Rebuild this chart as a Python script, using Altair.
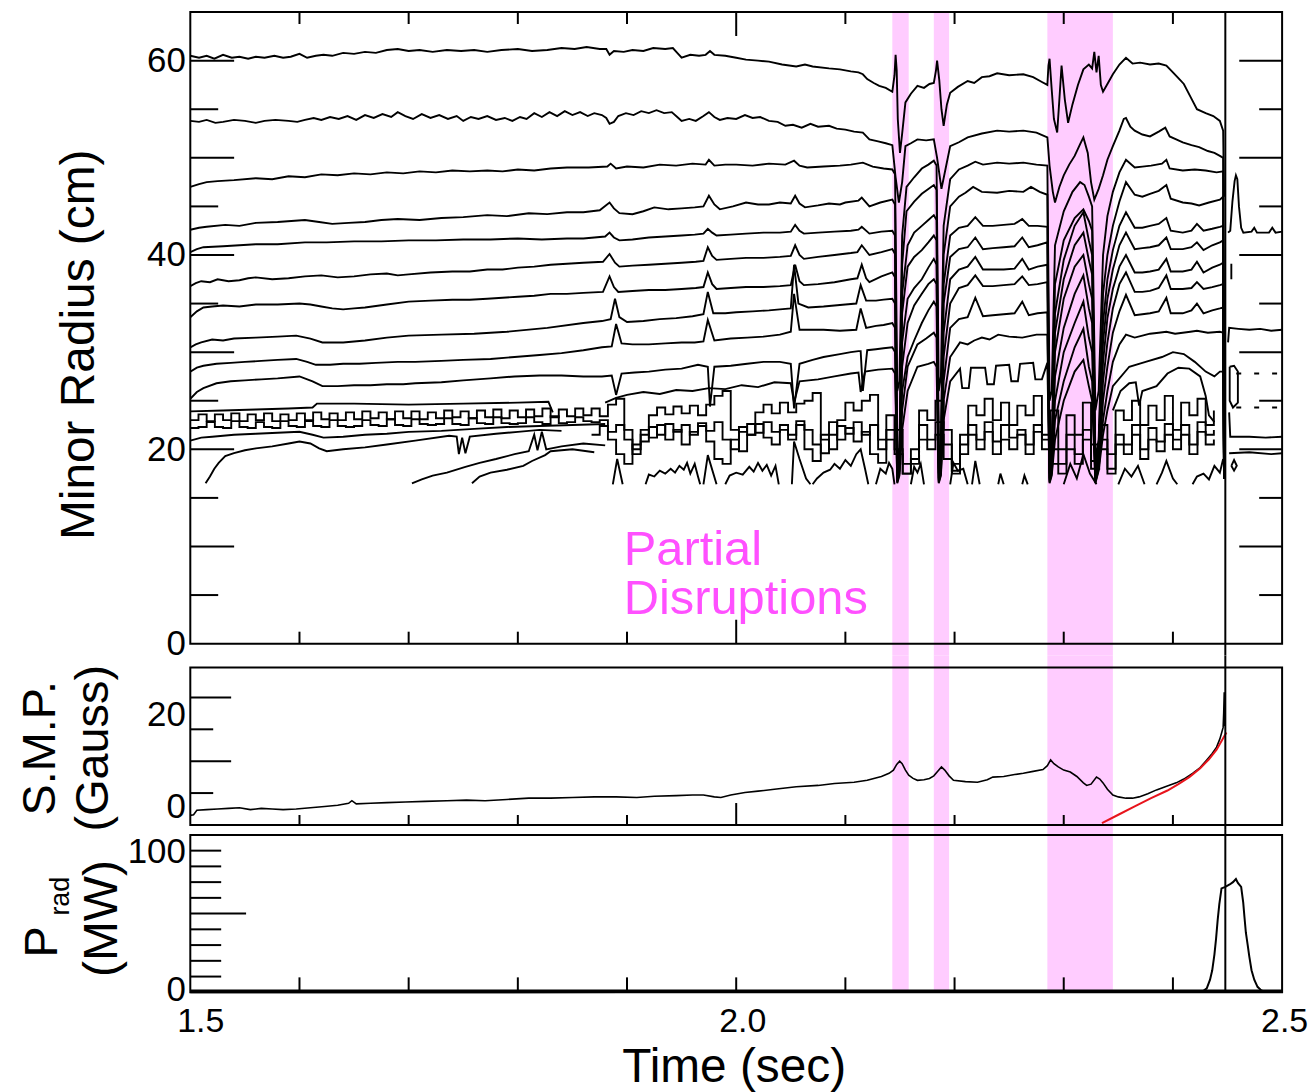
import altair as alt
import pandas as pd

FONT = "Liberation Sans"
PINK = "#ffccff"
MAGENTA = "#ff50ff"

# ---------------- axes / annotations ----------------
T_DOMAIN = [1.5, 2.5]
X_TICKS = [1.6, 1.7, 1.8, 1.9, 2.1, 2.2, 2.3, 2.4]
X_TICK_MID = [2.0]
X_LABELS = [1.5, 2.0, 2.5]
BAND_START = [2.143, 2.181, 2.285]
BAND_END = [2.158, 2.195, 2.345]
DISRUPTION_T = [2.448]

TOP_Y_LABELS = [0, 20, 40, 60]
TOP_Y_MAJOR = [10, 20, 30, 40, 50, 60]
TOP_Y_MINOR = [5, 15, 25, 35, 45, 55]
MID_Y_LABELS = [0, 20]
MID_Y_MAJOR = [10, 20]
MID_Y_MINOR = [5, 15]
BOT_Y_LABELS = [0, 100]
BOT_Y_MINOR = [10, 20, 30, 40, 60, 70, 80, 90]
BOT_Y_MAJOR = [50]

# ---------------- top panel: minor-radius contours (t [s], r [cm]) ----------------
L1 = [(1.500,60.5),(1.508,60.3),(1.515,60.5),(1.522,60.2),(1.530,60.6),(1.538,60.3),(1.545,60.4),(1.553,60.2),(1.560,60.4),(1.568,60.3),(1.577,60.5),(1.585,60.3),(1.592,60.4),(1.600,60.7),(1.607,60.3),(1.615,60.5),(1.622,60.6),(1.630,60.5),(1.640,60.8),(1.650,60.7),(1.660,60.9),(1.670,60.8),(1.680,61.1),(1.690,61.2),(1.700,61.0),(1.710,61.1),(1.722,60.9),(1.735,61.1),(1.748,61.0),(1.760,61.1),(1.772,60.9),(1.785,61.1),(1.800,61.2),(1.813,61.0),(1.827,61.1),(1.840,61.3),(1.852,61.2),(1.863,61.4),(1.875,61.2),(1.881,61.2),(1.884,60.6),(1.888,61.0),(1.897,60.9),(1.905,61.1),(1.915,61.0),(1.924,61.3),(1.935,61.2),(1.942,61.3),(1.946,60.8),(1.950,60.3),(1.958,60.6),(1.966,60.5),(1.972,60.6),(1.976,61.0),(1.980,60.6),(1.990,60.5),(2.000,60.3),(2.009,60.1),(2.020,60.0),(2.030,59.9),(2.042,59.6),(2.055,59.4),(2.063,59.6),(2.070,59.4),(2.085,59.2),(2.095,59.1),(2.105,58.9),(2.112,58.8),(2.116,58.6),(2.120,58.1),(2.126,57.7),(2.131,57.4),(2.137,57.2),(2.143,56.8),(2.145,58.5),(2.146,60.6),(2.147,59.0),(2.148,54.0),(2.150,50.5),(2.152,52.5),(2.155,55.7),(2.160,56.6),(2.166,57.4),(2.172,57.2),(2.177,57.6),(2.181,57.7),(2.183,59.0),(2.184,60.0),(2.186,58.0),(2.188,55.0),(2.190,53.3),(2.193,55.5),(2.196,56.7),(2.203,57.3),(2.212,57.9),(2.218,57.7),(2.225,58.3),(2.232,58.4),(2.239,58.7),(2.250,58.5),(2.263,58.6),(2.272,58.3),(2.280,57.8),(2.285,57.5),(2.286,59.5),(2.287,60.2),(2.289,57.0),(2.291,54.0),(2.294,52.6),(2.296,56.0),(2.298,59.5),(2.301,56.0),(2.304,53.6),(2.308,55.5),(2.313,57.5),(2.318,59.1),(2.323,59.6),(2.326,59.2),(2.328,60.9),(2.330,58.8),(2.332,60.5),(2.334,57.5),(2.336,56.8),(2.340,57.6),(2.345,58.6),(2.351,59.6),(2.357,60.3),(2.363,59.7),(2.370,59.8),(2.379,59.6),(2.387,59.7),(2.394,59.5),(2.400,58.8),(2.405,58.2),(2.410,57.6),(2.416,56.3),(2.422,55.0),(2.430,54.6),(2.437,54.3),(2.443,53.8),(2.446,52.8),(2.4468,46.0)]

L2 = [(1.500,53.8),(1.508,53.7),(1.515,53.9),(1.523,53.6),(1.530,53.7),(1.540,53.9),(1.550,53.8),(1.560,53.6),(1.568,53.8),(1.578,53.9),(1.590,53.8),(1.598,53.7),(1.605,53.9),(1.613,54.1),(1.620,53.9),(1.628,54.2),(1.636,54.0),(1.644,54.3),(1.652,53.9),(1.660,54.4),(1.668,54.1),(1.676,54.5),(1.684,54.2),(1.690,54.7),(1.697,54.3),(1.704,54.0),(1.712,54.5),(1.720,54.1),(1.728,54.4),(1.736,54.0),(1.744,54.3),(1.750,53.8),(1.757,54.2),(1.764,54.0),(1.772,54.3),(1.780,53.9),(1.788,54.1),(1.795,53.8),(1.802,54.2),(1.808,54.0),(1.815,54.6),(1.822,54.2),(1.829,54.7),(1.836,54.3),(1.843,54.8),(1.850,54.4),(1.857,54.7),(1.864,54.3),(1.870,54.6),(1.877,54.4),(1.881,54.1),(1.884,53.5),(1.888,53.7),(1.892,54.3),(1.899,54.6),(1.906,54.4),(1.913,54.8),(1.920,54.6),(1.927,54.9),(1.934,54.6),(1.941,54.7),(1.946,54.2),(1.950,53.8),(1.957,54.0),(1.963,53.8),(1.970,54.3),(1.975,54.7),(1.980,54.2),(1.985,53.9),(1.992,54.1),(2.000,54.0),(2.008,54.4),(2.015,54.1),(2.022,54.2),(2.030,53.8),(2.038,53.7),(2.045,53.3),(2.052,53.4),(2.060,53.1),(2.068,53.5),(2.075,53.2),(2.085,53.3),(2.092,53.0),(2.100,52.9),(2.108,52.7),(2.116,52.6),(2.122,51.9),(2.130,51.7),(2.137,51.5),(2.143,51.3),(2.146,48.0),(2.149,45.4),(2.152,47.5),(2.155,51.2),(2.160,51.5),(2.166,51.9),(2.174,51.8),(2.181,51.9),(2.184,50.0),(2.188,46.8),(2.192,49.0),(2.196,51.2),(2.204,51.6),(2.212,52.1),(2.225,52.5),(2.239,52.8),(2.250,52.7),(2.263,52.8),(2.275,52.6),(2.285,52.1),(2.287,49.2),(2.290,46.5),(2.292,45.4),(2.296,47.0),(2.300,48.2),(2.305,49.3),(2.310,50.2),(2.315,51.4),(2.318,52.1),(2.322,50.5),(2.325,47.5),(2.328,45.7),(2.332,46.8),(2.336,48.2),(2.340,49.8),(2.345,51.2),(2.351,52.8),(2.355,54.0),(2.357,54.1),(2.361,53.2),(2.365,52.8),(2.372,52.4),(2.379,52.2),(2.387,52.7),(2.393,53.1),(2.397,52.2),(2.403,51.9),(2.409,51.6),(2.417,51.3),(2.424,51.1),(2.432,50.7),(2.438,50.5),(2.443,50.2),(2.446,50.0),(2.4468,17.0)]

L3 = [(1.500,47.0),(1.508,47.3),(1.515,47.5),(1.525,47.6),(1.540,47.7),(1.560,47.9),(1.575,47.8),(1.590,48.1),(1.605,48.0),(1.620,48.3),(1.635,48.2),(1.650,48.4),(1.665,48.3),(1.680,48.5),(1.695,48.4),(1.710,48.6),(1.725,48.5),(1.740,48.7),(1.756,48.6),(1.772,48.7),(1.786,48.6),(1.800,48.8),(1.815,48.7),(1.830,48.9),(1.845,49.0),(1.865,49.0),(1.882,49.1),(1.885,49.4),(1.890,48.9),(1.900,49.1),(1.915,49.0),(1.930,49.3),(1.945,49.2),(1.960,49.4),(1.972,49.3),(1.975,49.8),(1.980,49.2),(1.990,49.3),(2.000,49.3),(2.015,49.2),(2.030,49.4),(2.045,49.3),(2.053,49.7),(2.058,49.2),(2.065,49.0),(2.080,49.1),(2.095,49.2),(2.105,49.3),(2.116,49.5),(2.125,49.1),(2.135,48.9),(2.143,48.8),(2.1455,48.3),(2.1475,26.0),(2.1495,27.0),(2.152,42.0),(2.156,47.0),(2.163,48.0),(2.170,48.9),(2.176,49.3),(2.181,49.7),(2.1835,49.2),(2.1855,26.0),(2.1875,27.5),(2.190,43.0),(2.196,47.8),(2.204,48.8),(2.212,49.2),(2.219,49.6),(2.226,49.3),(2.239,49.5),(2.250,49.4),(2.263,49.5),(2.275,49.3),(2.285,49.2),(2.287,25.0),(2.289,26.0),(2.292,41.0),(2.300,44.5),(2.308,46.5),(2.315,47.5),(2.319,47.2),(2.323,46.0),(2.326,45.0),(2.329,24.0),(2.332,26.0),(2.336,40.0),(2.340,44.0),(2.345,46.5),(2.351,48.5),(2.357,49.8),(2.365,49.0),(2.372,49.1),(2.380,49.2),(2.390,49.4),(2.394,49.8),(2.397,48.9),(2.409,48.7),(2.420,48.8),(2.430,48.7),(2.440,48.5),(2.446,48.6),(2.4468,17.0)]

L4 = [(1.500,42.6),(1.508,42.8),(1.515,42.9),(1.532,43.1),(1.545,43.0),(1.560,43.3),(1.580,43.4),(1.605,43.6),(1.618,43.4),(1.630,43.2),(1.645,43.3),(1.660,43.4),(1.675,43.6),(1.690,43.7),(1.710,43.6),(1.730,43.8),(1.750,43.9),(1.772,44.1),(1.790,44.0),(1.810,44.3),(1.827,44.2),(1.845,44.4),(1.860,44.4),(1.875,44.6),(1.884,45.4),(1.888,44.8),(1.893,44.3),(1.905,44.2),(1.915,44.5),(1.925,44.9),(1.938,44.7),(1.950,44.8),(1.962,44.9),(1.970,45.0),(1.975,46.1),(1.980,45.2),(1.985,44.7),(1.997,45.0),(2.009,45.4),(2.020,45.2),(2.030,45.2),(2.040,45.4),(2.050,45.3),(2.054,46.1),(2.058,45.3),(2.063,44.9),(2.075,45.1),(2.085,45.3),(2.095,45.2),(2.100,45.4),(2.112,45.6),(2.115,45.9),(2.122,45.0),(2.132,45.4),(2.143,45.7),(2.1455,45.2),(2.1475,19.0),(2.1495,20.0),(2.152,39.0),(2.156,44.5),(2.163,45.5),(2.170,46.3),(2.176,46.8),(2.181,47.2),(2.1835,46.7),(2.1855,19.5),(2.1875,20.5),(2.190,40.0),(2.196,45.0),(2.204,46.0),(2.210,46.4),(2.217,47.0),(2.225,46.5),(2.239,46.4),(2.250,46.6),(2.263,46.5),(2.270,47.0),(2.278,46.5),(2.285,46.2),(2.287,19.0),(2.289,20.0),(2.292,37.0),(2.300,41.5),(2.310,43.8),(2.318,44.7),(2.323,43.5),(2.326,42.5),(2.329,19.0),(2.332,21.0),(2.336,36.0),(2.340,40.0),(2.345,43.0),(2.351,45.5),(2.357,47.5),(2.365,46.2),(2.372,46.0),(2.379,46.3),(2.387,46.6),(2.394,47.2),(2.398,45.8),(2.409,45.4),(2.417,45.3),(2.424,45.1),(2.433,45.4),(2.443,45.7),(2.446,46.0),(2.4468,17.0)]

L5 = [(1.500,40.3),(1.506,40.6),(1.512,40.8),(1.530,40.9),(1.545,41.0),(1.560,41.1),(1.580,41.1),(1.605,41.3),(1.625,41.3),(1.650,41.4),(1.675,41.4),(1.700,41.5),(1.725,41.5),(1.750,41.6),(1.775,41.6),(1.800,41.7),(1.822,41.6),(1.845,41.7),(1.860,41.7),(1.880,41.9),(1.884,42.3),(1.888,41.8),(1.893,41.5),(1.905,41.6),(1.920,41.8),(1.935,41.9),(1.950,42.0),(1.962,42.1),(1.970,42.2),(1.974,42.7),(1.978,42.3),(1.982,42.0),(1.995,42.1),(2.009,42.2),(2.025,42.3),(2.040,42.3),(2.050,42.4),(2.054,43.1),(2.058,42.5),(2.062,42.2),(2.075,42.3),(2.090,42.4),(2.105,42.5),(2.112,42.6),(2.115,42.9),(2.122,42.2),(2.133,42.4),(2.143,42.5),(2.1455,42.0),(2.1475,18.5),(2.1495,19.5),(2.152,36.0),(2.157,41.0),(2.163,42.3),(2.170,43.0),(2.176,43.6),(2.181,44.1),(2.1835,43.6),(2.1855,18.5),(2.1875,19.5),(2.190,37.0),(2.196,42.0),(2.204,42.8),(2.212,43.0),(2.219,43.9),(2.226,43.0),(2.235,43.0),(2.245,43.1),(2.255,43.2),(2.262,43.7),(2.268,43.0),(2.276,43.0),(2.285,42.9),(2.287,18.5),(2.289,19.5),(2.292,34.0),(2.300,39.5),(2.310,43.0),(2.318,44.4),(2.323,41.5),(2.326,40.0),(2.329,18.5),(2.332,20.5),(2.336,33.0),(2.340,37.5),(2.345,40.5),(2.351,43.0),(2.357,44.4),(2.365,42.8),(2.372,42.8),(2.379,43.0),(2.387,43.2),(2.394,43.8),(2.398,42.5),(2.409,42.3),(2.417,42.5),(2.422,43.2),(2.428,42.5),(2.436,42.7),(2.443,42.9),(2.446,43.0),(2.4468,17.0)]

L6 = [(1.500,36.8),(1.505,37.1),(1.510,37.3),(1.518,37.2),(1.525,37.5),(1.535,37.3),(1.545,37.4),(1.553,37.6),(1.560,37.7),(1.575,37.5),(1.590,37.6),(1.605,37.8),(1.620,37.9),(1.635,37.7),(1.650,37.8),(1.665,38.0),(1.680,38.1),(1.690,37.9),(1.700,38.0),(1.720,38.2),(1.740,38.3),(1.756,38.3),(1.772,38.5),(1.786,38.5),(1.800,38.7),(1.815,38.8),(1.830,39.0),(1.845,39.1),(1.860,39.2),(1.878,39.3),(1.884,40.1),(1.889,39.2),(1.893,38.8),(1.905,38.9),(1.920,39.0),(1.935,39.1),(1.950,39.2),(1.963,39.3),(1.970,39.4),(1.974,40.8),(1.978,39.9),(1.982,39.5),(1.995,39.6),(2.009,39.7),(2.025,39.7),(2.040,39.8),(2.050,39.9),(2.054,41.0),(2.058,40.0),(2.062,39.6),(2.075,39.8),(2.090,40.0),(2.105,40.2),(2.111,40.3),(2.115,41.0),(2.122,40.0),(2.133,40.3),(2.143,40.6),(2.1455,40.1),(2.1475,18.0),(2.1495,19.0),(2.152,34.0),(2.157,38.8),(2.163,39.8),(2.170,40.5),(2.176,41.3),(2.181,42.0),(2.1835,41.5),(2.1855,18.0),(2.1875,19.0),(2.190,35.0),(2.196,39.8),(2.204,40.6),(2.212,40.8),(2.219,41.8),(2.226,40.6),(2.235,40.7),(2.245,40.8),(2.255,40.9),(2.262,41.8),(2.268,40.8),(2.276,41.0),(2.285,41.3),(2.287,18.0),(2.289,19.0),(2.292,32.0),(2.300,37.5),(2.310,41.0),(2.318,42.3),(2.323,39.5),(2.326,38.0),(2.329,18.0),(2.332,20.0),(2.336,31.0),(2.340,35.5),(2.345,38.5),(2.351,41.0),(2.357,42.3),(2.365,40.6),(2.372,40.7),(2.379,40.8),(2.387,41.0),(2.394,41.8),(2.398,40.6),(2.409,40.6),(2.417,40.8),(2.422,41.3),(2.428,40.5),(2.436,41.0),(2.443,41.3),(2.446,41.5),(2.4468,17.0)]

L7 = [(1.500,33.6),(1.506,34.2),(1.512,34.6),(1.520,34.7),(1.530,34.8),(1.545,34.7),(1.560,34.9),(1.580,34.9),(1.600,35.0),(1.610,34.9),(1.620,34.7),(1.630,34.5),(1.640,34.4),(1.650,34.5),(1.660,34.6),(1.680,34.9),(1.700,35.2),(1.720,35.3),(1.740,35.4),(1.756,35.4),(1.772,35.5),(1.786,35.6),(1.800,35.7),(1.815,35.8),(1.830,36.0),(1.845,36.0),(1.860,36.1),(1.878,36.2),(1.884,37.8),(1.888,36.7),(1.892,36.2),(1.905,36.3),(1.920,36.4),(1.935,36.4),(1.950,36.5),(1.963,36.6),(1.970,36.7),(1.974,38.2),(1.978,37.0),(1.982,36.5),(1.995,36.6),(2.009,36.7),(2.025,36.7),(2.040,36.8),(2.050,36.9),(2.054,39.0),(2.058,37.3),(2.062,36.9),(2.075,37.0),(2.090,37.2),(2.105,37.5),(2.111,37.6),(2.115,39.0),(2.119,37.6),(2.122,37.2),(2.133,37.8),(2.143,38.2),(2.1455,37.7),(2.1475,17.5),(2.1495,18.5),(2.152,31.0),(2.157,35.5),(2.163,36.6),(2.170,37.5),(2.176,38.7),(2.181,39.6),(2.1835,39.0),(2.1855,17.5),(2.1875,18.5),(2.190,32.0),(2.196,37.5),(2.204,38.5),(2.212,38.8),(2.219,39.8),(2.226,38.5),(2.235,38.5),(2.245,38.5),(2.255,38.6),(2.262,39.6),(2.268,38.5),(2.276,38.8),(2.285,39.0),(2.287,17.5),(2.289,18.5),(2.292,30.0),(2.300,35.5),(2.310,38.8),(2.318,40.0),(2.323,37.0),(2.326,35.5),(2.329,17.5),(2.332,19.5),(2.336,29.0),(2.340,33.5),(2.345,36.5),(2.351,38.8),(2.357,40.0),(2.365,38.2),(2.372,38.2),(2.379,38.3),(2.387,38.5),(2.394,39.6),(2.398,38.3),(2.409,38.3),(2.417,38.5),(2.422,39.3),(2.428,38.2),(2.436,38.7),(2.443,39.0),(2.446,39.2),(2.4468,17.0)]

L8 = [(1.500,30.5),(1.505,30.8),(1.510,31.0),(1.520,31.3),(1.530,31.2),(1.540,31.4),(1.560,31.5),(1.580,31.6),(1.597,31.7),(1.610,31.4),(1.621,31.0),(1.640,31.0),(1.660,31.2),(1.680,31.5),(1.700,31.7),(1.730,31.8),(1.760,31.9),(1.790,32.1),(1.827,32.5),(1.860,33.0),(1.877,33.2),(1.885,33.4),(1.889,35.5),(1.893,33.6),(1.900,33.1),(1.915,33.2),(1.930,33.4),(1.945,33.5),(1.960,33.7),(1.970,33.9),(1.974,36.2),(1.979,34.0),(1.990,34.0),(2.000,34.1),(2.015,34.2),(2.030,34.3),(2.040,34.4),(2.050,34.5),(2.053,39.0),(2.057,35.0),(2.066,34.6),(2.080,34.7),(2.090,34.8),(2.100,34.9),(2.110,35.0),(2.114,36.9),(2.119,35.3),(2.128,35.3),(2.135,35.4),(2.143,35.5),(2.1455,35.0),(2.1475,17.0),(2.1495,18.0),(2.152,28.5),(2.157,33.0),(2.163,34.8),(2.170,36.0),(2.176,37.0),(2.181,37.5),(2.1835,37.0),(2.1855,17.0),(2.1875,18.0),(2.190,29.5),(2.196,35.0),(2.204,36.6),(2.212,36.9),(2.219,37.9),(2.226,36.8),(2.235,36.8),(2.245,36.9),(2.255,37.0),(2.262,37.8),(2.268,36.9),(2.276,37.0),(2.285,37.2),(2.287,17.0),(2.289,18.0),(2.292,27.5),(2.300,32.5),(2.310,36.0),(2.318,37.9),(2.323,34.5),(2.326,33.0),(2.329,17.0),(2.332,19.0),(2.336,27.0),(2.340,31.0),(2.345,34.5),(2.351,37.0),(2.357,38.2),(2.365,36.2),(2.372,36.2),(2.379,36.3),(2.387,36.6),(2.394,37.9),(2.398,36.5),(2.409,36.5),(2.417,36.6),(2.422,37.2),(2.428,36.5),(2.436,36.7),(2.443,36.9),(2.446,37.0),(2.4468,17.0)]

L9 = [(1.500,28.0),(1.506,28.4),(1.512,28.6),(1.524,28.8),(1.537,28.9),(1.550,29.0),(1.565,29.1),(1.580,29.2),(1.597,29.3),(1.607,29.0),(1.615,28.7),(1.628,28.7),(1.640,28.8),(1.655,28.8),(1.670,28.9),(1.690,29.0),(1.706,29.0),(1.730,29.1),(1.750,29.2),(1.775,29.3),(1.797,29.5),(1.820,29.7),(1.840,29.9),(1.860,30.2),(1.877,30.5),(1.886,30.6),(1.890,32.9),(1.895,30.9),(1.905,30.8),(1.920,30.8),(1.935,30.9),(1.950,31.0),(1.962,31.0),(1.970,31.1),(1.974,33.3),(1.980,31.2),(1.995,31.4),(2.010,31.5),(2.025,31.6),(2.040,31.8),(2.050,32.1),(2.053,36.0),(2.058,32.3),(2.070,32.3),(2.080,32.3),(2.095,32.2),(2.110,32.3),(2.114,34.5),(2.119,32.5),(2.128,32.7),(2.135,32.8),(2.143,33.0),(2.1455,32.5),(2.1475,16.8),(2.1495,17.8),(2.152,26.0),(2.157,29.5),(2.163,31.2),(2.170,33.0),(2.176,34.3),(2.181,35.2),(2.1835,34.7),(2.1855,16.8),(2.1875,17.8),(2.190,27.0),(2.196,32.5),(2.204,33.4),(2.212,33.6),(2.219,35.6),(2.226,33.7),(2.235,33.8),(2.245,33.9),(2.255,34.0),(2.262,35.2),(2.268,33.8),(2.276,34.0),(2.285,34.1),(2.287,16.8),(2.289,17.8),(2.292,25.0),(2.300,30.0),(2.310,33.0),(2.318,35.2),(2.323,31.5),(2.326,30.0),(2.329,16.8),(2.332,18.5),(2.336,25.0),(2.340,28.5),(2.345,32.0),(2.351,34.2),(2.357,35.9),(2.365,33.8),(2.372,33.9),(2.379,34.0),(2.387,34.2),(2.394,35.6),(2.398,34.0),(2.409,34.0),(2.417,34.3),(2.422,35.0),(2.428,34.0),(2.436,34.3),(2.443,34.5),(2.446,34.6),(2.4468,17.0)]

L10 = [(1.500,25.2),(1.506,25.9),(1.512,26.3),(1.524,26.8),(1.537,27.0),(1.550,27.1),(1.565,27.2),(1.580,27.3),(1.600,27.5),(1.612,27.0),(1.621,26.5),(1.635,26.5),(1.650,26.6),(1.665,26.6),(1.680,26.7),(1.695,26.7),(1.706,26.8),(1.730,26.9),(1.750,27.1),(1.775,27.3),(1.797,27.5),(1.820,27.6),(1.840,27.6),(1.860,27.5),(1.877,27.5),(1.886,27.6),(1.890,25.6),(1.895,27.8),(1.907,27.9),(1.920,28.0),(1.935,28.2),(1.950,28.3),(1.965,28.7),(1.974,28.5),(1.976,24.4),(1.980,28.5),(1.995,28.6),(2.010,28.8),(2.025,29.0),(2.040,29.0),(2.050,28.8),(2.053,24.2),(2.058,28.8),(2.070,29.2),(2.080,29.5),(2.095,29.8),(2.105,30.0),(2.112,30.1),(2.114,30.1),(2.116,26.0),(2.120,30.2),(2.128,30.3),(2.135,30.4),(2.143,30.5),(2.1455,30.0),(2.1475,16.6),(2.1495,17.5),(2.152,24.0),(2.157,28.5),(2.166,30.8),(2.174,31.4),(2.181,32.0),(2.1835,31.5),(2.1855,16.6),(2.1875,17.5),(2.190,25.0),(2.196,29.5),(2.205,31.0),(2.212,30.8),(2.218,31.2),(2.225,31.5),(2.232,31.3),(2.240,31.8),(2.250,31.6),(2.262,31.5),(2.275,31.8),(2.285,31.8),(2.287,16.6),(2.289,17.5),(2.292,23.0),(2.300,27.0),(2.310,30.5),(2.318,32.4),(2.323,28.5),(2.326,27.0),(2.329,16.6),(2.332,18.0),(2.336,23.0),(2.340,26.0),(2.345,29.0),(2.351,30.8),(2.357,31.8),(2.365,31.5),(2.372,31.7),(2.379,31.9),(2.387,32.0),(2.394,32.1),(2.402,31.9),(2.409,32.0),(2.416,32.1),(2.422,32.2),(2.432,32.0),(2.443,32.1),(2.446,32.0),(2.4468,17.0)]

L11 = [(1.880,24.8),(1.890,25.3),(1.900,25.6),(1.915,25.9),(1.930,25.7),(1.945,26.1),(1.960,26.0),(1.975,26.3),(1.990,26.2),(2.005,26.6),(2.020,26.4),(2.035,26.9),(2.050,26.8),(2.053,24.8),(2.058,27.0),(2.075,27.2),(2.090,27.5),(2.105,27.8),(2.112,27.9),(2.114,25.9),(2.118,28.0),(2.130,28.2),(2.143,28.3),(2.1455,27.8),(2.1475,16.5),(2.1495,17.3),(2.152,22.0),(2.157,26.0),(2.166,28.5),(2.176,28.8),(2.181,29.0),(2.1835,28.5),(2.1855,16.5),(2.1875,17.3),(2.190,23.0),(2.196,27.0),(2.205,28.3),(2.207,26.3),(2.213,26.3),(2.215,28.4),(2.228,28.4),(2.230,26.7),(2.236,26.7),(2.238,28.6),(2.250,28.7),(2.252,27.0),(2.258,27.0),(2.260,28.8),(2.272,28.9),(2.274,27.2),(2.280,27.2),(2.285,28.9),(2.287,16.5),(2.289,17.3),(2.292,21.0),(2.300,25.0),(2.310,28.0),(2.318,29.2),(2.323,26.5),(2.326,25.0),(2.329,16.5),(2.332,17.8),(2.336,21.5),(2.340,24.0),(2.345,26.5),(2.360,28.5),(2.375,29.0),(2.390,29.5),(2.400,30.0),(2.410,29.8),(2.420,29.0),(2.430,28.0),(2.438,27.5),(2.443,28.0),(2.446,28.0),(2.4468,17.0)]

L11B = [(2.345,24.0),(2.352,26.0),(2.360,26.8),(2.366,26.9),(2.369,24.5),(2.372,26.0),(2.385,26.5),(2.395,27.8),(2.405,28.4),(2.415,28.3),(2.425,27.5),(2.430,25.5),(2.433,23.5),(2.438,22.8)]

LUP = [(1.500,23.9),(1.530,24.0),(1.560,24.1),(1.590,24.2),(1.612,24.3),(1.616,24.7),(1.650,24.7),(1.700,24.6),(1.750,24.7),(1.800,24.8),(1.828,24.9),(1.832,23.8)]

L12 = [(1.500,20.9),(1.510,21.2),(1.520,21.3),(1.540,21.5),(1.560,21.6),(1.580,21.7),(1.600,21.8),(1.612,21.5),(1.622,21.2),(1.640,21.3),(1.660,21.5),(1.680,21.6),(1.700,21.8),(1.730,21.9),(1.760,22.1),(1.790,22.3),(1.820,22.4),(1.850,22.5),(1.880,22.6)]

L13 = [(1.514,16.5),(1.518,17.2),(1.522,18.0),(1.526,18.6),(1.532,19.3),(1.540,19.6),(1.550,19.9),(1.560,20.1),(1.575,20.3),(1.590,20.6),(1.600,20.8),(1.610,20.6),(1.618,20.1),(1.625,19.8),(1.640,20.0),(1.660,20.2),(1.680,20.5),(1.706,20.9),(1.737,21.4),(1.744,21.3),(1.746,19.5),(1.749,21.2),(1.752,19.6),(1.756,21.3),(1.780,21.6),(1.800,21.8),(1.820,22.0),(1.840,21.9)]

L14 = [(1.703,16.5),(1.712,16.9),(1.722,17.3),(1.735,17.6),(1.752,18.2),(1.765,18.6),(1.780,19.0),(1.797,19.5),(1.810,19.8),(1.815,21.5),(1.818,19.9),(1.822,21.8),(1.826,20.0),(1.840,20.3),(1.860,20.6),(1.880,20.4)]

L15 = [(1.758,16.5),(1.765,17.2),(1.775,17.6),(1.790,17.9),(1.805,18.3),(1.813,18.8),(1.825,19.4),(1.830,19.8),(1.850,20.0),(1.870,19.7)]

# tangled band (square-wave-like contours), sampled every 7.5 ms
SQ_T0 = 1.500
SQ_DT = 0.0075
SQA_V = [23.0,23.6,22.9,23.6,23.0,23.7,22.9,23.6,23.0,23.7,
         22.9,23.6,23.0,23.7,23.0,23.8,23.1,23.7,23.0,23.8,
         23.1,23.9,23.2,23.8,23.1,23.9,23.2,23.9,23.1,23.8,
         23.2,24.0,23.3,23.9,23.2,24.0,23.3,24.1,23.2,24.0,
         23.3,24.1,23.4,24.2,23.3,24.1,23.4,24.2,23.5,
         24.2,23.4,24.6,25.2,22.0,20.0,21.5,23.5,24.3,23.6,24.4,
         23.7,24.5,23.5,24.6,25.5,26.0,22.0,19.8,21.5,23.8,
         24.6,23.7,24.8,23.8,24.7,25.0,25.8,21.0,20.0,23.0,
         24.8,24.0,25.0,25.6,21.0,23.5,22.0,18.5,20.0,24.0,
         23.0,25.0,22.0,18.5,21.5,24.5,23.5,25.2,23.0,24.8,
         22.5,24.5,23.5,25.5,21.0,24.0,20.0,23.5,21.5,24.8,
         20.5,22.5,19.5,24.0,23.0,25.0,22.5,24.5,23.0,25.5,
         22.0,24.8,23.5,25.2,22.5,24.0]
SQB_V = [22.2,22.3,22.8,22.3,22.2,22.9,22.3,22.2,22.8,22.3,
         22.2,22.9,22.4,22.3,22.9,22.4,22.3,23.0,22.4,22.3,
         22.4,23.0,22.5,22.4,23.1,22.5,22.4,23.1,22.6,22.5,
         22.6,23.2,22.6,22.5,23.2,22.7,22.6,23.3,22.7,22.6,
         22.7,23.3,22.8,22.6,23.4,22.7,22.8,23.3,22.9,
         22.8,23.0,21.8,22.5,21.0,19.5,20.8,22.3,21.5,22.6,21.8,
         22.5,21.5,22.7,21.9,22.8,21.0,20.0,21.8,22.6,21.7,
         22.8,21.8,22.5,21.5,22.9,22.0,20.5,19.6,21.5,22.4,
         21.6,22.8,21.5,22.5,20.0,22.0,19.5,17.5,19.0,22.5,
         21.0,22.8,20.5,17.8,20.5,22.5,21.0,22.8,20.8,22.5,
         21.2,22.0,20.5,22.5,21.5,20.0,18.5,21.5,19.5,22.0,
         18.8,21.0,18.0,21.5,20.5,22.5,20.0,22.2,20.8,22.6,
         21.0,22.5,20.5,22.8,21.5,22.0]
SQC_T0 = 1.8675
SQC_V = [21.5,22.4,21.0,19.5,18.5,20.5,22.0,21.2,22.5,21.0,22.0,
         20.5,21.8,22.4,20.8,19.0,18.5,21.0,22.3,21.5,22.6,
         21.2,20.5,22.0,21.0,22.5,20.0,18.8,21.5,22.8,21.0,
         22.2,20.8,21.8,19.5,18.6,21.0,20.0,17.5,18.5,21.0,
         20.0,21.5,19.0,17.5,19.5,21.5,20.0,21.8,19.5,21.0,
         20.0,21.5,19.5,21.8,20.0,18.5,17.5,20.0,18.5,21.0,
         18.0,20.0,17.5,20.5,19.5,21.5,19.0,21.0,19.8,21.5,
         20.0,21.5,19.5,21.8,20.5,21.0]

# contour fragments that leave through the 16.4 cm lower edge
B1 = [(1.887,16.4),(1.891,19.0),(1.896,16.4)]
B2 = [(1.917,16.4),(1.920,17.4),(1.925,17.2),(1.930,17.8),(1.935,17.5),(1.940,18.0),(1.944,17.6),(1.948,18.3),(1.952,17.9),(1.955,18.6),(1.958,17.5),(1.962,18.5),(1.965,17.2),(1.967,16.4)]
B3 = [(1.970,16.4),(1.974,19.4),(1.982,16.4)]
B4 = [(1.990,16.4),(1.994,17.3),(2.000,17.6),(2.006,17.4),(2.012,18.2),(2.016,17.7),(2.020,18.6),(2.024,17.8),(2.028,18.4),(2.032,17.3),(2.036,18.3),(2.039,16.4)]
B5 = [(2.051,16.4),(2.053,20.8),(2.058,19.0),(2.064,17.0),(2.068,16.4)]
B6 = [(2.070,16.4),(2.074,17.0),(2.080,17.6),(2.086,17.9),(2.090,18.5),(2.095,18.0),(2.100,18.9),(2.105,18.3),(2.110,19.5),(2.114,20.0),(2.118,18.0),(2.121,16.4)]
B7 = [(2.128,16.4),(2.132,18.0),(2.137,17.5),(2.140,18.6),(2.143,18.0),(2.145,16.4)]
B8 = [(2.160,16.4),(2.163,18.2),(2.166,17.6),(2.169,18.5),(2.172,16.4)]
B9 = [(2.196,16.4),(2.199,18.6),(2.203,17.8),(2.208,18.0),(2.212,16.4)]
B10 = [(2.216,16.4),(2.219,18.8),(2.223,16.4)]
B11 = [(2.240,16.4),(2.242,17.5),(2.245,16.4)]
B12 = [(2.262,16.4),(2.264,17.3),(2.267,16.4)]
B13 = [(2.300,16.4),(2.306,18.5),(2.312,17.0),(2.318,19.5),(2.324,17.5),(2.330,16.4)]
B14 = [(2.350,16.4),(2.356,18.0),(2.362,17.2),(2.368,18.3),(2.374,16.4)]
B15 = [(2.385,16.4),(2.390,17.6),(2.394,18.8),(2.400,17.0),(2.404,16.4)]
B16 = [(2.418,16.4),(2.422,17.2),(2.428,17.5),(2.433,16.9),(2.438,18.3),(2.443,17.6),(2.446,19.0)]

# after the disruption
R1 = [(2.4505,42.3),(2.4525,42.5),(2.4545,45.5),(2.4565,47.6),(2.4577,48.2),(2.459,47.8),(2.4605,45.0),(2.4625,42.8),(2.4645,42.3),(2.472,42.4),(2.4745,42.8),(2.477,42.3),(2.488,42.3),(2.491,42.8),(2.494,42.3),(2.500,42.4)]
R2 = [(2.4505,31.0),(2.4515,32.5),(2.460,32.4),(2.470,32.3),(2.480,32.4),(2.490,32.2),(2.500,32.3)]
R5 = [(2.4515,23.8),(2.4525,21.3),(2.470,21.3),(2.485,21.2),(2.500,21.3)]
R6 = [(2.4515,19.6),(2.470,19.7),(2.490,19.5),(2.500,19.6)]
R7 = [(2.4535,18.3),(2.456,17.8),(2.4585,18.3),(2.456,18.9),(2.4535,18.3)]
R8 = [(2.452,28.5),(2.452,25.0),(2.455,24.3),(2.4595,24.8),(2.4595,28.0),(2.456,28.6),(2.452,28.5)]
R9 = [(2.4535,39.1),(2.4535,37.5)]
DOT1 = [(2.458,27.8),(2.500,27.8)]
DOT2 = [(2.458,24.3),(2.500,24.3)]

# ---------------- middle panel: S.M.P. (Gauss) ----------------
SMP = [(1.500,1.5),(1.503,1.6),(1.506,2.3),(1.515,2.4),(1.525,2.5),(1.535,2.6),(1.545,2.7),(1.555,2.4),(1.565,2.6),(1.575,2.5),(1.585,2.4),(1.597,2.5),(1.610,2.7),(1.623,2.9),(1.635,3.1),(1.645,3.4),(1.648,3.8),(1.652,3.3),(1.665,3.4),(1.680,3.5),(1.697,3.6),(1.715,3.7),(1.735,3.8),(1.753,3.9),(1.770,3.8),(1.790,4.0),(1.810,4.2),(1.830,4.2),(1.850,4.3),(1.870,4.4),(1.890,4.4),(1.909,4.3),(1.925,4.5),(1.945,4.6),(1.960,4.7),(1.970,4.7),(1.980,4.4),(1.986,4.3),(1.995,4.7),(2.008,5.1),(2.020,5.3),(2.035,5.6),(2.055,6.0),(2.075,6.2),(2.090,6.5),(2.108,6.7),(2.120,7.0),(2.133,7.6),(2.140,8.1),(2.144,8.6),(2.147,9.5),(2.1497,10.0),(2.152,9.6),(2.155,8.6),(2.158,7.8),(2.162,7.3),(2.166,7.0),(2.172,7.1),(2.177,7.3),(2.181,7.7),(2.185,8.5),(2.188,9.1),(2.191,8.6),(2.195,7.7),(2.199,7.0),(2.210,6.8),(2.221,6.7),(2.230,7.1),(2.235,7.5),(2.245,7.6),(2.255,7.9),(2.263,8.1),(2.272,8.4),(2.281,8.7),(2.285,9.3),(2.288,10.2),(2.291,9.6),(2.295,9.1),(2.300,8.6),(2.306,8.3),(2.312,7.6),(2.318,6.6),(2.321,6.2),(2.325,6.4),(2.330,7.5),(2.333,7.2),(2.336,6.6),(2.340,5.6),(2.345,4.7),(2.350,4.4),(2.357,4.2),(2.363,4.2),(2.369,4.4),(2.377,4.9),(2.385,5.5),(2.393,6.0),(2.403,6.6),(2.410,7.2),(2.418,8.1),(2.425,9.0),(2.431,10.2),(2.436,11.2),(2.440,12.2),(2.443,13.5),(2.446,15.3),(2.4465,17.5),(2.447,20.8),(2.4473,15.5)]
SMP_FIT = [(2.335,0.3),(2.350,1.6),(2.365,2.9),(2.380,4.2),(2.395,5.4),(2.405,6.4),(2.415,7.5),(2.425,8.9),(2.433,10.3),(2.440,11.8),(2.449,14.5)]

# ---------------- bottom panel: P_rad (MW) ----------------
PRAD = [(1.500,0.0),(1.700,0.0),(1.900,0.2),(2.000,0.3),(2.050,0.5),(2.100,0.6),(2.150,0.4),(2.250,0.3),(2.300,0.5),(2.360,0.4),(2.380,0.7),(2.420,0.9),(2.428,1.0),(2.431,2.5),(2.434,8.0),(2.436,14.0),(2.438,24.0),(2.4395,34.0),(2.441,46.0),(2.4425,56.0),(2.4445,66.0),(2.448,67.0),(2.452,68.5),(2.455,70.0),(2.4577,72.0),(2.4595,69.5),(2.4625,67.0),(2.4644,57.0),(2.4655,48.0),(2.4668,38.0),(2.4685,30.0),(2.4699,23.0),(2.472,14.0),(2.4745,8.0),(2.4775,3.5),(2.481,1.2),(2.4836,0.5),(2.490,0.2),(2.500,0.6)]

# ---------------- layout constants (pixels) ----------------
W = 1096
H_TOP, FR_TOP = 646, 634
H_MID, FR_MID_TOP, FR_MID_BOT = 175, 12, 170
H_BOT, FR_BOT_TOP = 163, 5
TOP_DOM = [-12 * 65 / 634, 65]
MID_DOM = [-5 / 6.4, 170 / 6.4]
BOT_DOM = [0, 100 + 5 * 100 / 158]
LW = 1.9


def seg_df(segs):
    rows = []
    for name, pts in segs.items():
        for i, (t, r) in enumerate(pts):
            rows.append((name, i, t, r))
    return pd.DataFrame(rows, columns=["seg", "i", "t", "r"])


sq_t = [round(SQ_T0 + SQ_DT * k, 4) for k in range(len(SQA_V))]
sqc_t = [round(SQC_T0 + SQ_DT * k, 4) for k in range(len(SQC_V))]
SQA = list(zip(sq_t, SQA_V))
SQB = list(zip(sq_t, SQB_V))
SQC = list(zip(sqc_t, SQC_V))

XS = alt.Scale(domain=T_DOMAIN, nice=False, zero=False)
one = pd.DataFrame({"a": [0]})
bands_df = pd.DataFrame({"t": BAND_START, "t2": BAND_END})
vline_df = pd.DataFrame({"t": DISRUPTION_T})


def X(axis=None):
    return alt.X("t:Q", scale=XS, axis=axis, title=None)


def Y(dom, axis=None):
    return alt.Y("r:Q", scale=alt.Scale(domain=dom, nice=False, zero=False), axis=axis, title=None)


def common(h, xaxis=None):
    bands = alt.Chart(bands_df).mark_rect(color=PINK).encode(
        x=X(xaxis), x2="t2:Q", y=alt.value(0), y2=alt.value(h))
    vline = alt.Chart(vline_df).mark_rule(color="black", strokeWidth=2).encode(
        x=X(xaxis), y=alt.value(0), y2=alt.value(h))
    return bands, vline


def yticks(vals, dom, yaxis, x0, x1):
    return alt.Chart(pd.DataFrame({"r": vals})).mark_rule(color="black", strokeWidth=2).encode(
        y=Y(dom, yaxis), x=alt.value(x0), x2=alt.value(x1))


def xticks(vals, y0, y1, xaxis=None):
    return alt.Chart(pd.DataFrame({"t": vals})).mark_rule(color="black", strokeWidth=2).encode(
        x=X(xaxis), y=alt.value(y0), y2=alt.value(y1))


LBL = dict(labelFontSize=35, labelFont=FONT, labelColor="black", ticks=False, tickSize=0,
           domain=False, grid=False, labelPadding=5)

# ---------------- top panel ----------------
top_yaxis = alt.Axis(values=TOP_Y_LABELS, **LBL)
bands_t, vline_t = common(H_TOP)
contours = seg_df({"L1": L1, "L2": L2, "L3": L3, "L4": L4, "L5": L5, "L6": L6, "L7": L7,
                   "L8": L8, "L9": L9, "L10": L10, "L11": L11, "L11B": L11B, "LUP": LUP,
                   "L12": L12, "L13": L13, "L14": L14, "L15": L15,
                   "B1": B1, "B2": B2, "B3": B3, "B4": B4, "B5": B5, "B6": B6, "B7": B7, "B8": B8,
                   "B9": B9, "B10": B10, "B11": B11, "B12": B12, "B13": B13, "B14": B14, "B15": B15,
                   "B16": B16, "R1": R1, "R2": R2, "R5": R5, "R6": R6, "R7": R7, "R8": R8, "R9": R9})
lines_t = alt.Chart(contours).mark_line(color="black", strokeWidth=LW, clip=True).encode(
    x=X(), y=Y(TOP_DOM, top_yaxis), detail="seg:N", order="i:Q")
steps_t = alt.Chart(seg_df({"SQA": SQA, "SQB": SQB, "SQC": SQC})).mark_line(
    color="black", strokeWidth=LW, interpolate="step-after", clip=True).encode(
    x=X(), y=Y(TOP_DOM, top_yaxis), detail="seg:N", order="i:Q")
dots_t = alt.Chart(seg_df({"D1": DOT1, "D2": DOT2})).mark_line(
    color="black", strokeWidth=LW, strokeDash=[5, 13], clip=True).encode(
    x=X(), y=Y(TOP_DOM, top_yaxis), detail="seg:N", order="i:Q")
frame_t = alt.Chart(one).mark_rect(filled=False, stroke="black", strokeWidth=2).encode(
    x=alt.value(0), x2=alt.value(W), y=alt.value(0), y2=alt.value(FR_TOP))
note = alt.Chart(pd.DataFrame({"t": [1.897, 1.897], "r": [8.1, 3.1],
                               "txt": ["Partial", "Disruptions"]})).mark_text(
    align="left", baseline="alphabetic", fontSize=49, font=FONT, color=MAGENTA).encode(
    x=X(), y=Y(TOP_DOM, top_yaxis), text="txt:N")
title_t = alt.Chart(one).mark_text(angle=270, align="center", baseline="alphabetic",
                                   fontSize=48, font=FONT, color="black").encode(
    x=alt.value(-97), y=alt.value(334), text=alt.value("Minor Radius (cm)"))

top = alt.layer(
    bands_t,
    yticks(TOP_Y_MAJOR, TOP_DOM, top_yaxis, 0, 44),
    yticks(TOP_Y_MINOR, TOP_DOM, top_yaxis, 0, 28),
    yticks(TOP_Y_MAJOR, TOP_DOM, top_yaxis, W - 43, W),
    yticks(TOP_Y_MINOR, TOP_DOM, top_yaxis, W - 23, W),
    xticks(X_TICKS, 0, 12), xticks(X_TICK_MID, 0, 24),
    xticks(X_TICKS, FR_TOP, FR_TOP - 12), xticks(X_TICK_MID, FR_TOP, FR_TOP - 24),
    steps_t, lines_t, dots_t, vline_t, frame_t, note, title_t,
).properties(width=W, height=H_TOP)

# ---------------- middle panel ----------------
mid_yaxis = alt.Axis(values=MID_Y_LABELS,
                     labelBaseline={"condition": {"test": "datum.value == 0", "value": "bottom"},
                                    "value": "top"}, **LBL)
bands_m, vline_m = common(H_MID)
smp_line = alt.Chart(seg_df({"smp": SMP})).mark_line(color="black", strokeWidth=1.6).encode(
    x=X(), y=Y(MID_DOM, mid_yaxis), order="i:Q")
fit_line = alt.Chart(seg_df({"fit": SMP_FIT})).mark_line(color="#e8141c", strokeWidth=2).encode(
    x=X(), y=Y(MID_DOM, mid_yaxis), order="i:Q")
frame_m = alt.Chart(one).mark_rect(filled=False, stroke="black", strokeWidth=2).encode(
    x=alt.value(0), x2=alt.value(W), y=alt.value(FR_MID_TOP), y2=alt.value(FR_MID_BOT))
t_smp = alt.Chart(one).mark_text(angle=270, align="center", baseline="alphabetic",
                                 fontSize=47, font=FONT, color="black").encode(
    x=alt.value(-136), y=alt.value(93), text=alt.value("S.M.P."))
t_gauss = alt.Chart(one).mark_text(angle=270, align="center", baseline="alphabetic",
                                   fontSize=47, font=FONT, color="black").encode(
    x=alt.value(-83), y=alt.value(93), text=alt.value("(Gauss)"))
mid = alt.layer(
    bands_m,
    yticks(MID_Y_MAJOR, MID_DOM, mid_yaxis, 0, 41),
    yticks(MID_Y_MINOR, MID_DOM, mid_yaxis, 0, 23),
    xticks(X_TICKS, FR_MID_BOT, FR_MID_BOT - 10), xticks(X_TICK_MID, FR_MID_BOT, FR_MID_BOT - 22),
    smp_line, fit_line, vline_m, frame_m, t_smp, t_gauss,
).properties(width=W, height=H_MID)

# ---------------- bottom panel ----------------
bot_yaxis = alt.Axis(values=BOT_Y_LABELS,
                     labelBaseline={"condition": {"test": "datum.value == 100", "value": "top"},
                                    "value": "middle"},
                     labelOffset={"condition": {"test": "datum.value == 0", "value": -3}, "value": 0},
                     **LBL)
bot_xaxis = alt.Axis(values=X_LABELS, format=".1f", labelFontSize=34, labelFont=FONT,
                     labelColor="black", ticks=False, tickSize=0, domain=False, grid=False,
                     labelPadding=12, labelFlush=False, labelBaseline="top",
                     labelOffset={"condition": [{"test": "datum.value == 1.5", "value": 10},
                                                {"test": "datum.value == 2", "value": 6}],
                                  "value": 2})
bands_b, vline_b = common(H_BOT, bot_xaxis)
prad_line = alt.Chart(seg_df({"prad": PRAD})).mark_line(color="black", strokeWidth=2).encode(
    x=X(bot_xaxis), y=Y(BOT_DOM, bot_yaxis), order="i:Q")
frame_b = alt.Chart(one).mark_rect(filled=False, stroke="black", strokeWidth=2).encode(
    x=alt.value(0), x2=alt.value(W), y=alt.value(FR_BOT_TOP), y2=alt.value(H_BOT))
base_b = alt.Chart(one).mark_rule(color="black", strokeWidth=3.5).encode(
    x=alt.value(0), x2=alt.value(W), y=alt.value(H_BOT - 1))
t_p = alt.Chart(one).mark_text(angle=270, align="left", baseline="alphabetic",
                               fontSize=47, font=FONT, color="black").encode(
    x=alt.value(-134), y=alt.value(128), text=alt.value("P"))
t_rad = alt.Chart(one).mark_text(angle=270, align="left", baseline="alphabetic",
                                 fontSize=27, font=FONT, color="black").encode(
    x=alt.value(-122), y=alt.value(86), text=alt.value("rad"))
t_mw = alt.Chart(one).mark_text(angle=270, align="center", baseline="alphabetic",
                                fontSize=48, font=FONT, color="black").encode(
    x=alt.value(-74), y=alt.value(89), text=alt.value("(MW)"))
t_time = alt.Chart(one).mark_text(align="center", baseline="alphabetic",
                                  fontSize=48, font=FONT, color="black").encode(
    x=alt.value(546), y=alt.value(253), text=alt.value("Time (sec)"))
bot = alt.layer(
    bands_b,
    yticks(BOT_Y_MINOR, BOT_DOM, bot_yaxis, 0, 31),
    yticks(BOT_Y_MAJOR, BOT_DOM, bot_yaxis, 0, 56),
    xticks(X_TICKS + X_TICK_MID, H_BOT, H_BOT - 15, bot_xaxis),
    prad_line, vline_b, frame_b, base_b, t_p, t_rad, t_mw, t_time,
).properties(width=W, height=H_BOT)

chart = alt.vconcat(top, mid, bot, spacing=0, bounds="flush").properties(
    padding={"left": 9, "top": 1, "right": 0, "bottom": 0}
).configure(font=FONT).configure_view(stroke=None)

chart.save("out.html", embed_options={"renderer": "svg", "actions": False})
